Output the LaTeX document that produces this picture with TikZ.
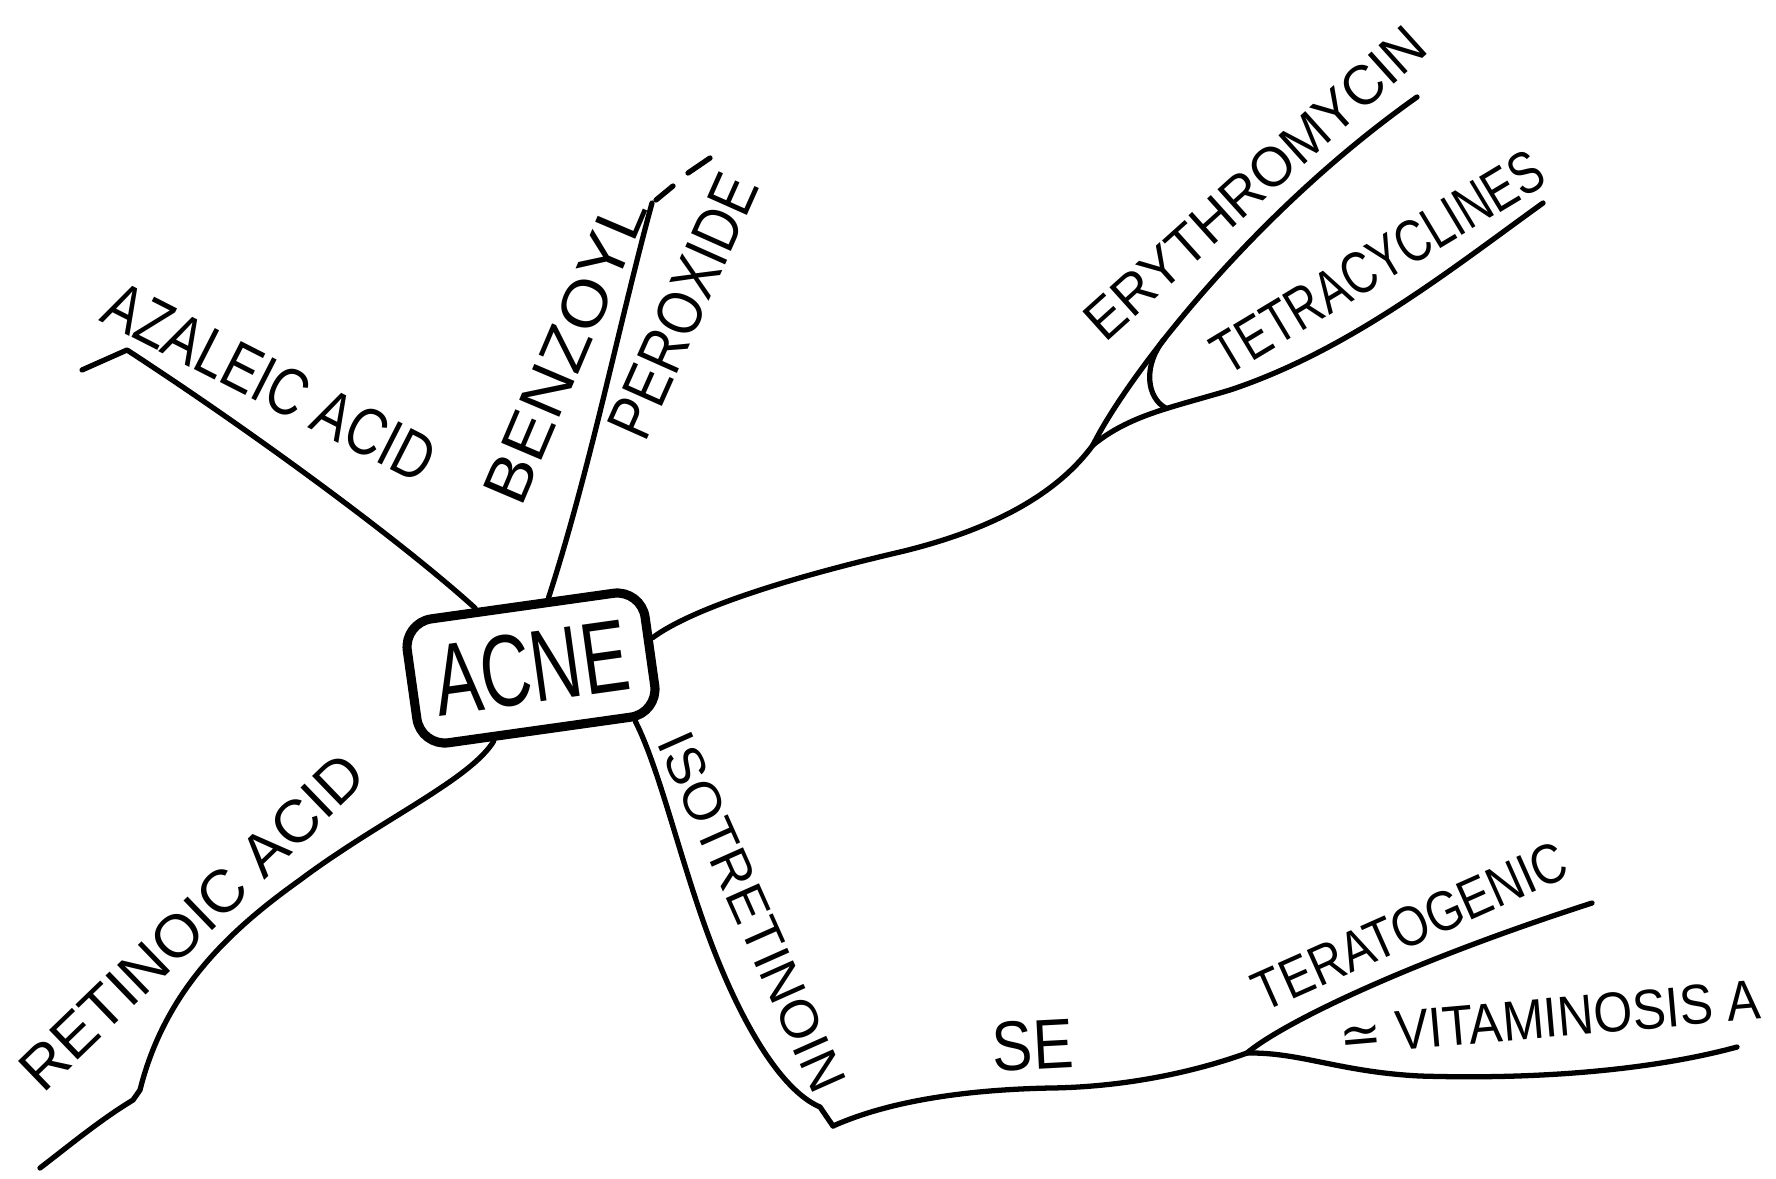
\documentclass[tikz,border=0pt]{standalone}
\usepackage{fontspec}
\setmainfont{Liberation Sans}
\newfontfamily\symfont{DejaVu Sans}
\newcommand\myfs[1]{\fontsize{#1}{#1}\selectfont}
\begin{document}
\begin{tikzpicture}[x=0.01cm,y=-0.01cm,line cap=round,line join=round,
  br/.style={line width=1.5pt},
  lbl/.style={inner sep=0pt},
  hub/.style={draw,line width=2.6pt,rounded corners=8pt,minimum width=2.4cm,minimum height=1.25cm,inner sep=0pt}]
\fill[white] (0,0) rectangle (1776,1178);
\useasboundingbox (0,0) rectangle (1776,1178);

% central node
\node[hub,rotate=8] (acne) at (531,668) {\myfs{29}\scalebox{0.69}[1]{ACNE}};

% free ends
\coordinate (az0) at (82,370);
\coordinate (az1) at (127,350);
\coordinate (bz) at (652,203);
\coordinate (bz1) at (656,200);
\coordinate (bz2) at (673,186);
\coordinate (bz3) at (688,173);
\coordinate (bz4) at (710,158);
\coordinate (f1) at (1093,445);
\coordinate (ery) at (1417,97);
\coordinate (tet) at (1543,203);
\coordinate (iso) at (820,1107);
\coordinate (iso2) at (833,1126);
\coordinate (f2) at (1247,1053);
\coordinate (ter) at (1592,903);
\coordinate (vit) at (1737,1047);
\coordinate (ret) at (40,1168);

% azelaic acid
\draw[br] (acne.125) .. controls (400,540) and (250,430) .. (az1) -- (az0);
% benzoyl peroxide
\draw[br] (acne.68) .. controls (590,470) and (620,320) .. (bz);
\draw[br] (bz1) -- (bz2);
\draw[br] (bz3) -- (bz4);
% antibiotics
\draw[br] (acne.6) .. controls (690,610) and (780,580) .. (900,552) .. controls (1000,528) and (1060,490) .. (f1);
\draw[br] (f1) .. controls (1125,380) and (1250,215) .. coordinate[pos=0.37] (b1) (ery);
\draw[br] (f1) .. controls (1130,415) and (1170,408) .. coordinate[pos=0.6] (b2) (1230,390) .. controls (1350,350) and (1450,270) .. (tet);
\draw[br] (b1) .. controls (1143,365) and (1146,398) .. (b2);
% isotretinoin
\draw[br] (acne.-35) .. controls (660,770) and (680,860) .. (710,940) .. controls (740,1020) and (780,1090) .. (iso) -- (iso2);
\draw[br] (iso2) .. controls (880,1105) and (950,1090) .. (1050,1088) .. controls (1130,1087) and (1200,1070) .. (f2);
\draw[br] (f2) .. controls (1280,1025) and (1400,965) .. (ter);
\draw[br] (f2) .. controls (1300,1052) and (1340,1072) .. (1420,1076) .. controls (1550,1080) and (1660,1068) .. (vit);
% retinoic acid
\draw[br] (acne.-125) .. controls (470,780) and (380,820) .. (300,880) .. controls (230,930) and (165,990) .. (140,1090) -- (133,1100) .. controls (100,1120) and (70,1145) .. (ret);

% labels
\node[lbl,rotate=-27] (tazel) at (270,382) {\myfs{19}\scalebox{0.79}[1]{AZALEIC ACID}};
\node[lbl,rotate=67] (tbenz) at (565,350) {\myfs{18}\scalebox{1.1}[1]{BENZOYL}};
\node[lbl,rotate=66] (tperox) at (683,306) {\myfs{18}\scalebox{0.86}[1]{PEROXIDE}};
\node[lbl,rotate=42] (tery) at (1255,183) {\myfs{16}\scalebox{0.96}[1]{ERYTHROMYCIN}};
\node[lbl,rotate=31] (ttet) at (1378,262) {\myfs{17}\scalebox{0.76}[1]{TETRACYCLINES}};
\node[lbl,rotate=-66] (tiso) at (752,912) {\myfs{15}\scalebox{1.03}[1]{ISOTRETINOIN}};
\node[lbl,rotate=44] (tret) at (192,922) {\myfs{17}\scalebox{1.02}[1]{RETINOIC ACID}};
\node[lbl,rotate=3] (tse) at (1033,1045) {\myfs{20}\scalebox{0.86}[1]{SE}};
\node[lbl,rotate=24] (tter) at (1410,926) {\myfs{16}\scalebox{0.84}[1]{TERATOGENIC}};
\node[lbl,rotate=5] (tvit) at (1550,1018) {\myfs{16}\scalebox{0.89}[1]{{\symfont ≃} VITAMINOSIS A}};
\end{tikzpicture}
\end{document}
